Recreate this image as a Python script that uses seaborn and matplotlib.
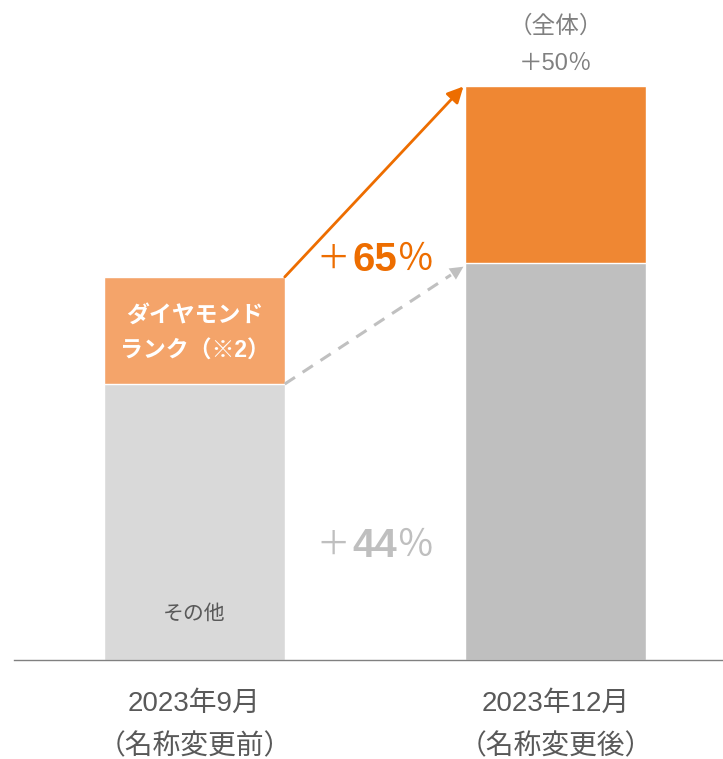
import numpy as np
import pandas as pd
import seaborn as sns
import matplotlib.pyplot as plt

# data (index: 2023/9 "other" = 100)
periods = ["2023年9月\n（名称変更前）", "2023年12月\n（名称変更後）"]
other = [100, 144]
diamond = [38.8, 63.8]
total = [o + d for o, d in zip(other, diamond)]

other_colors = ["#d9d9d9", "#bfbfbf"]
diamond_colors = ["#f4a46a", "#ef8733"]

sns.set_theme(style="white")
plt.rcParams["font.family"] = ["Liberation Sans", "Noto Sans CJK JP", "DejaVu Sans"]

df = pd.DataFrame({"period": periods, "other": other, "total": total})

fig = plt.figure(figsize=(7.23, 7.59), dpi=100)
ax = fig.add_axes([14 / 723, 99 / 759, 709 / 723, 660 / 759])

sns.barplot(data=df, x="period", y="total", hue="period", palette=diamond_colors,
            width=0.5, legend=False, ax=ax, saturation=1)
sns.barplot(data=df, x="period", y="other", hue="period", palette=other_colors,
            width=0.5, legend=False, ax=ax, saturation=1)

ax.set_xlim(-0.5, 1.464)
ax.set_ylim(0, 660 / 2.76)
ax.set_xlabel("")
ax.set_ylabel("")
ax.set_yticks([])
for s in ["left", "right", "top"]:
    ax.spines[s].set_visible(False)
ax.spines["bottom"].set_color("#808080")
ax.spines["bottom"].set_linewidth(1.0)
ax.tick_params(axis="x", length=0, pad=22, labelsize=20, labelcolor="#595959")
for lab in ax.get_xticklabels():
    lab.set_linespacing(1.85)

# growth arrows
orange = "#ed6d00"
ax.annotate("", xy=(0.745, total[1]), xytext=(0.25, total[0]),
            arrowprops=dict(arrowstyle="-|>", color=orange, lw=2,
                            mutation_scale=24, shrinkA=0, shrinkB=0))
g = "#c0c0c0"
x0, y0, x1, y1 = 0.25, other[0], 0.745, other[1] - 1.5
ax.plot([x0, x0 + (x1 - x0) * 0.93], [y0, y0 + (y1 - y0) * 0.93], color=g,
        lw=2.2, ls=(0, (4, 3)))
ax.annotate("", xy=(x1, y1), xytext=(x0 + (x1 - x0) * 0.9, y0 + (y1 - y0) * 0.9),
            arrowprops=dict(arrowstyle="-|>", color=g, lw=0,
                            mutation_scale=24, shrinkA=0, shrinkB=0))


def growth(x, y, num, color):
    # thin "＋" and "％", bold digits
    ax.annotate("＋", (x, y), xytext=(-30, 0), textcoords="offset points",
                ha="center", va="center", color=color, fontsize=24)
    ax.annotate(num, (x, y), xytext=(0, 0), textcoords="offset points",
                ha="center", va="center", color=color, fontsize=29,
                fontweight="bold")
    ax.annotate("％", (x, y), xytext=(28.5, 0), textcoords="offset points",
                ha="center", va="center", color=color, fontsize=27)


growth(0.5, 144.8, "65", orange)
growth(0.5, 41.3, "44", "#bfbfbf")

ax.text(1, 229.5, "（全体）", ha="center", va="center", color="#808080", fontsize=17)
ax.text(1, 216, "＋50％", ha="center", va="center", color="#808080", fontsize=17)
ax.text(0, 16.5, "その他", ha="center", va="center", color="#595959", fontsize=15)
ax.text(0, 118.5, "ダイヤモンド\nランク（※2）", ha="center", va="center",
        color="white", fontsize=16.5, fontweight="bold", linespacing=1.75)

fig.savefig("out.png", dpi=100)
